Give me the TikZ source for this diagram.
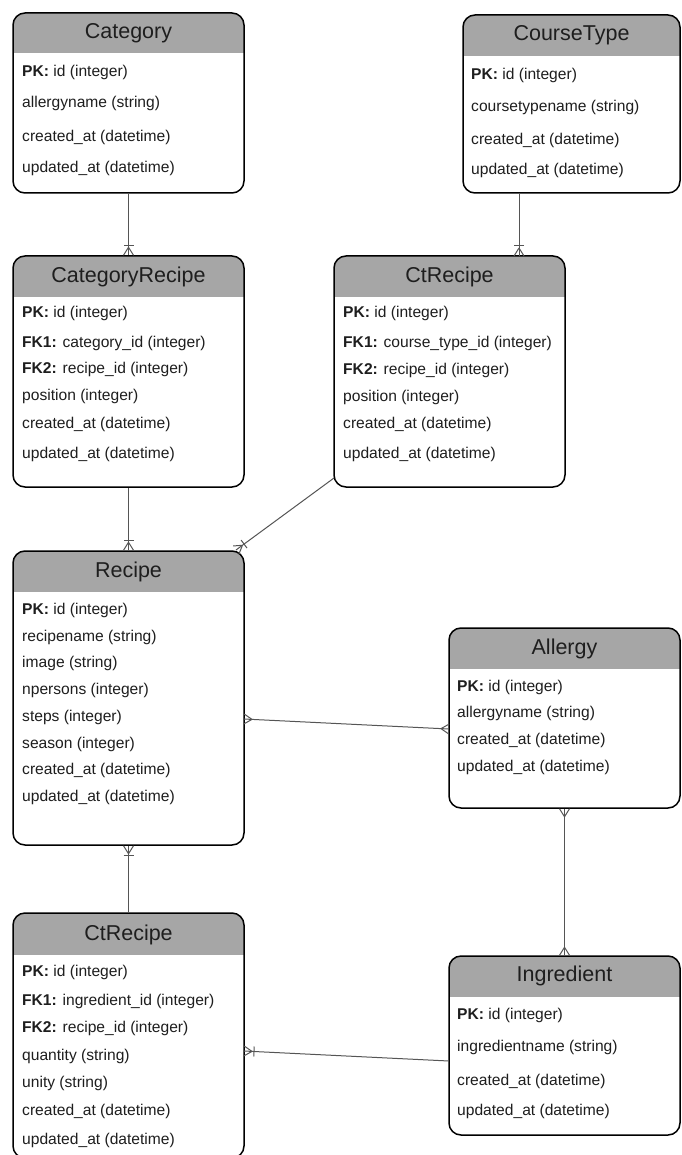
\documentclass[tikz,border=0pt]{standalone}
\usepackage{fontspec}
\setmainfont{Liberation Sans}
\usetikzlibrary{calc,fit}

\definecolor{headfill}{HTML}{A6A6A6}
\definecolor{ink}{HTML}{1E1E1E}
\definecolor{linkcol}{HTML}{555555}

\tikzset{
  x=1pt, y=-1pt,
  entity/.style={draw=black, line width=1.5pt, rounded corners=12pt, fill=white,
    inner sep=0pt,
    path picture={\fill[headfill, sharp corners] (path picture bounding box.north west)
      rectangle ([yshift=-#1]path picture bounding box.north east);}},
  etitle/.style={font=\fontsize{21.5}{25}\selectfont, text=ink, inner sep=0pt},
  erow/.style={font=\fontsize{15.6}{18}\selectfont, text=ink, inner sep=0pt, anchor=west},
  conn/.style={draw=linkcol, line width=1pt},
}

% crow's foot (many) at the end #2 of a link coming from #1
\newcommand\manyend[2]{%
  \draw[conn] ($(#2)!8pt!(#1)$) -- ($(#2)!5pt!90:(#1)$)
              ($(#2)!8pt!(#1)$) -- ($(#2)!5pt!-90:(#1)$);}
% bar (one) just behind the crow's foot at end #2
\newcommand\onebar[2]{%
  \draw[conn] ($(#2)!10pt!(#1)!5pt!90:(#2)$) -- ($(#2)!10pt!(#1)!5pt!-90:(#2)$);}

\begin{document}
\begin{tikzpicture}
\useasboundingbox (0,0) rectangle (681,1155);
\clip (0,0) rectangle (681,1155);
\fill[white] (0,0) rectangle (681,1155);

% ---------- Category ----------
\node[entity=40pt, fit={(13,13) (244,193)}] (category) {};
\node[etitle] (category-t) at (128.5,33) {Category};
\node[erow] (category-1) at (22,72) {\textbf{PK:} id (integer)};
\node[erow] (category-2) at (22,103) {allergyname (string)};
\node[erow] (category-3) at (22,137) {created\_at (datetime)};
\node[erow] (category-4) at (22,168) {updated\_at (datetime)};

% ---------- CourseType ----------
\node[entity=41pt, fit={(463,15) (680,193)}] (coursetype) {};
\node[etitle] (coursetype-t) at (571.5,35) {CourseType};
\node[erow] (coursetype-1) at (471,75) {\textbf{PK:} id (integer)};
\node[erow] (coursetype-2) at (471,107) {coursetypename (string)};
\node[erow] (coursetype-3) at (471,140) {created\_at (datetime)};
\node[erow] (coursetype-4) at (471,170) {updated\_at (datetime)};

% ---------- CategoryRecipe ----------
\node[entity=41pt, fit={(13,256) (244,487)}] (catrecipe) {};
\node[etitle] (catrecipe-t) at (128.5,277) {CategoryRecipe};
\node[erow] (catrecipe-1) at (22,313) {\textbf{PK:} id (integer)};
\node[erow] (catrecipe-2) at (22,343) {\textbf{FK1:} category\_id (integer)};
\node[erow] (catrecipe-3) at (22,369) {\textbf{FK2:} recipe\_id (integer)};
\node[erow] (catrecipe-4) at (22,396) {position (integer)};
\node[erow] (catrecipe-5) at (22,424) {created\_at (datetime)};
\node[erow] (catrecipe-6) at (22,454) {updated\_at (datetime)};

% ---------- CtRecipe (course type) ----------
\node[entity=41pt, fit={(334,256) (565,487)}] (ctrecipe) {};
\node[etitle] (ctrecipe-t) at (449.5,277) {CtRecipe};
\node[erow] (ctrecipe-1) at (343,313) {\textbf{PK:} id (integer)};
\node[erow] (ctrecipe-2) at (343,343) {\textbf{FK1:} course\_type\_id (integer)};
\node[erow] (ctrecipe-3) at (343,370) {\textbf{FK2:} recipe\_id (integer)};
\node[erow] (ctrecipe-4) at (343,397) {position (integer)};
\node[erow] (ctrecipe-5) at (343,424) {created\_at (datetime)};
\node[erow] (ctrecipe-6) at (343,454) {updated\_at (datetime)};

% ---------- Recipe ----------
\node[entity=41pt, fit={(13,551) (244,845)}] (recipe) {};
\node[etitle] (recipe-t) at (128.5,572) {Recipe};
\node[erow] (recipe-1) at (22,610) {\textbf{PK:} id (integer)};
\node[erow] (recipe-2) at (22,637) {recipename (string)};
\node[erow] (recipe-3) at (22,663) {image (string)};
\node[erow] (recipe-4) at (22,690) {npersons (integer)};
\node[erow] (recipe-5) at (22,717) {steps (integer)};
\node[erow] (recipe-6) at (22,744) {season (integer)};
\node[erow] (recipe-7) at (22,770) {created\_at (datetime)};
\node[erow] (recipe-8) at (22,797) {updated\_at (datetime)};

% ---------- Allergy ----------
\node[entity=41pt, fit={(449,628) (680,808)}] (allergy) {};
\node[etitle] (allergy-t) at (564.5,649) {Allergy};
\node[erow] (allergy-1) at (457,687) {\textbf{PK:} id (integer)};
\node[erow] (allergy-2) at (457,713) {allergyname (string)};
\node[erow] (allergy-3) at (457,740) {created\_at (datetime)};
\node[erow] (allergy-4) at (457,767) {updated\_at (datetime)};

% ---------- CtRecipe (ingredient) ----------
\node[entity=42pt, fit={(13,913) (244,1158)}] (ingrecipe) {};
\node[etitle] (ingrecipe-t) at (128.5,935) {CtRecipe};
\node[erow] (ingrecipe-1) at (22,972) {\textbf{PK:} id (integer)};
\node[erow] (ingrecipe-2) at (22,1001) {\textbf{FK1:} ingredient\_id (integer)};
\node[erow] (ingrecipe-3) at (22,1028) {\textbf{FK2:} recipe\_id (integer)};
\node[erow] (ingrecipe-4) at (22,1056) {quantity (string)};
\node[erow] (ingrecipe-5) at (22,1083) {unity (string)};
\node[erow] (ingrecipe-6) at (22,1111) {created\_at (datetime)};
\node[erow] (ingrecipe-7) at (22,1140) {updated\_at (datetime)};

% ---------- Ingredient ----------
\node[entity=41pt, fit={(449,956) (680,1135)}] (ingredient) {};
\node[etitle] (ingredient-t) at (564.5,976) {Ingredient};
\node[erow] (ingredient-1) at (457,1015) {\textbf{PK:} id (integer)};
\node[erow] (ingredient-2) at (457,1047) {ingredientname (string)};
\node[erow] (ingredient-3) at (457,1081) {created\_at (datetime)};
\node[erow] (ingredient-4) at (457,1111) {updated\_at (datetime)};

% ---------- link end points ----------
\coordinate (coursetype-s) at (519,193);
\coordinate (ctrecipe-n) at (519,256);
\coordinate (ctrecipe-sw) at (334,478);
\coordinate (recipe-ne) at (236,550);
\coordinate (recipe-e) at (244,719);
\coordinate (allergy-w) at (449,729);
\coordinate (ingredient-w) at (449,1061);
\coordinate (ingrecipe-e) at (244,1051);

% ---------- relationships ----------
% Category 1 -- n CategoryRecipe
\draw[conn] (category.south) -- (catrecipe.north);
\manyend{category.south}{catrecipe.north}
\onebar{category.south}{catrecipe.north}
% CourseType 1 -- n CtRecipe
\draw[conn] (coursetype-s) -- (ctrecipe-n);
\manyend{coursetype-s}{ctrecipe-n}
\onebar{coursetype-s}{ctrecipe-n}
% CategoryRecipe -- Recipe
\draw[conn] (catrecipe.south) -- (recipe.north);
\manyend{catrecipe.south}{recipe.north}
\onebar{catrecipe.south}{recipe.north}
% CtRecipe -- Recipe
\draw[conn] (ctrecipe-sw) -- (recipe-ne);
\manyend{ctrecipe-sw}{recipe-ne}
\onebar{ctrecipe-sw}{recipe-ne}
% Recipe n -- n Allergy
\draw[conn] (recipe-e) -- (allergy-w);
\manyend{allergy-w}{recipe-e}
\manyend{recipe-e}{allergy-w}
% Allergy n -- n Ingredient
\draw[conn] (allergy.south) -- (ingredient.north);
\manyend{ingredient.north}{allergy.south}
\manyend{allergy.south}{ingredient.north}
% Recipe -- CtRecipe (ingredient)
\draw[conn] (recipe.south) -- (ingrecipe.north);
\manyend{ingrecipe.north}{recipe.south}
\onebar{ingrecipe.north}{recipe.south}
% Ingredient -- CtRecipe (ingredient)
\draw[conn] (ingredient-w) -- (ingrecipe-e);
\manyend{ingredient-w}{ingrecipe-e}
\onebar{ingredient-w}{ingrecipe-e}
\end{tikzpicture}
\end{document}
